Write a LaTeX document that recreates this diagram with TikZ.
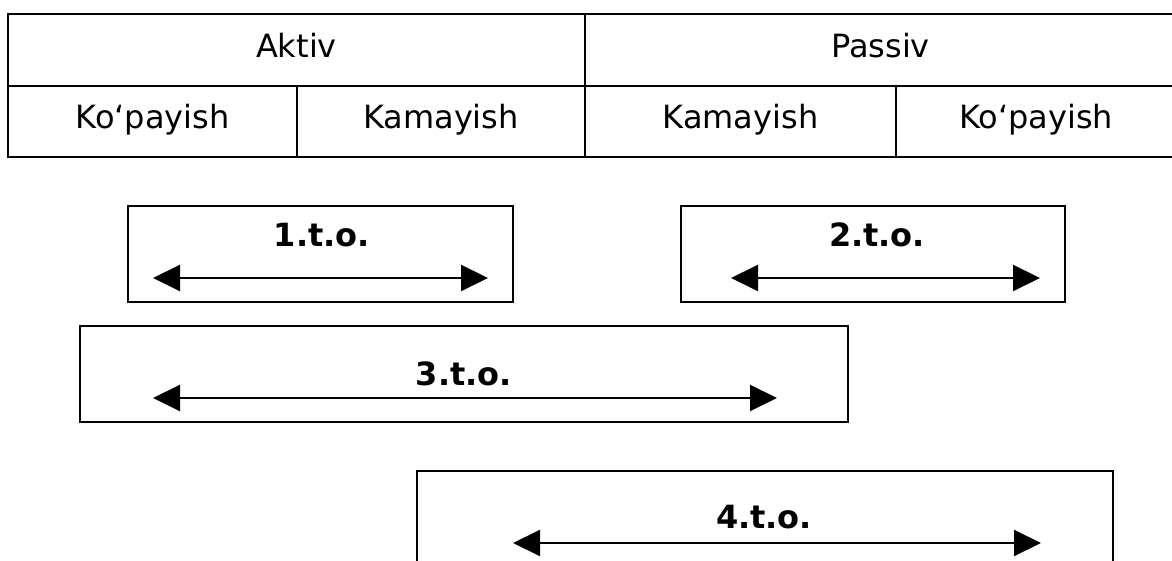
\documentclass[tikz,border=0pt]{standalone}
\usepackage{fontspec}
\setmainfont{DejaVu Sans}
\usetikzlibrary{arrows.meta}

\begin{document}
\begin{tikzpicture}[x=0.5pt,y=-0.5pt,line width=1pt,
        font=\fontsize{16pt}{19pt}\selectfont,
        cell/.style={draw,rectangle,inner sep=0pt,text height=0.73em,text depth=0pt},
        tobox/.style={draw,rectangle,inner sep=0pt,minimum height=48pt},
        tolabel/.style={anchor=base,font=\fontsize{16pt}{19pt}\selectfont\bfseries},
        span/.style={{Triangle[length=13.5pt,width=13pt]}-{Triangle[length=13.5pt,width=13pt]}}]
      \useasboundingbox (0,0) rectangle (1172,561);

      \node[cell,minimum width=288.5pt,minimum height=36pt] (aktiv) at (296.5,50) {Aktiv};
      \node[cell,minimum width=295.5pt,minimum height=36pt] (passiv) at (880.5,50) {Passiv};
      \node[cell,minimum width=144.5pt,minimum height=35.5pt] (akop) at (152.5,121.5) {Ko‘payish};
      \node[cell,minimum width=144pt,minimum height=35.5pt] (akam) at (441,121.5) {Kamayish};
      \node[cell,minimum width=155.5pt,minimum height=35.5pt] (pkam) at (740.5,121.5) {Kamayish};
      \node[cell,minimum width=140pt,minimum height=35.5pt] (pkop) at (1036,121.5) {Ko‘payish};

      \node[tobox,minimum width=192.5pt] (box1) at (320.5,254) {};
      \node[tolabel] (lab1) at (322,247) {1.t.o.};
      \coordinate (box1w) at (153,278);
      \coordinate (box1e) at (488,278);
      \draw[span] (box1w) -- (box1e);

      \node[tobox,minimum width=192pt] (box2) at (873,254) {};
      \node[tolabel] (lab2) at (877,247) {2.t.o.};
      \coordinate (box2w) at (731,278);
      \coordinate (box2e) at (1040,278);
      \draw[span] (box2w) -- (box2e);

      \node[tobox,minimum width=384pt] (box3) at (464,374) {};
      \node[tolabel] (lab3) at (464,385) {3.t.o.};
      \coordinate (box3w) at (153,398);
      \coordinate (box3e) at (777,398);
      \draw[span] (box3w) -- (box3e);

      \node[tobox,minimum width=348pt,minimum height=64.5pt] (box4) at (765,535.5) {};
      \node[tolabel] (lab4) at (764,528) {4.t.o.};
      \coordinate (box4w) at (513,543);
      \coordinate (box4e) at (1041,543);
      \draw[span] (box4w) -- (box4e);

    \end{tikzpicture}
\end{document}
